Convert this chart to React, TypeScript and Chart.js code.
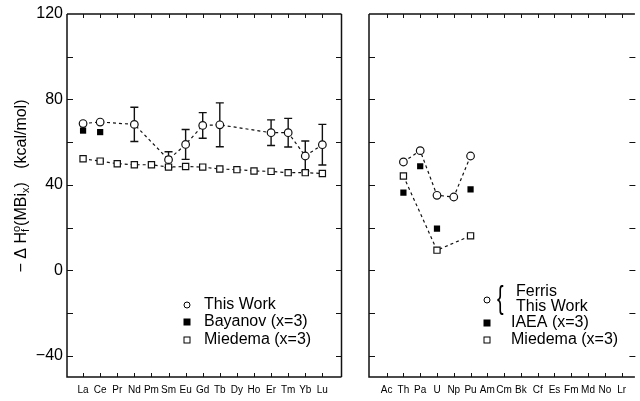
import React, { useEffect, useRef } from 'react';
import { Chart, registerables } from 'chart.js';

Chart.register(...registerables);

const FONT = "'Liberation Sans', Arial, Helvetica, sans-serif";

const lanthanides = ['La', 'Ce', 'Pr', 'Nd', 'Pm', 'Sm', 'Eu', 'Gd', 'Tb', 'Dy', 'Ho', 'Er', 'Tm', 'Yb', 'Lu'];
const actinides = ['Ac', 'Th', 'Pa', 'U', 'Np', 'Pu', 'Am', 'Cm', 'Bk', 'Cf', 'Es', 'Fm', 'Md', 'No', 'Lr'];
const yTickValues = [-40, 0, 40, 80, 120];
const yMinorTicks = [-40, -20, 0, 20, 40, 60, 80, 100];

// Left panel: lanthanide bismuthides
const thisWorkLn = [68.7, 69.4, null, 68.3, null, 51.8, 58.9, 67.8, 68.1, null, null, 64.4, 64.4, 53.5, 58.8];
const thisWorkLnErr = [0, 0, null, 8, null, 3.7, 7, 6, 10.3, null, null, 6, 6.7, 7, 9.5];
const bayanovLn = [65.4, 64.7, null, null, null, null, null, null, null, null, null, null, null, null, null];
const miedemaLn = [52.2, 51.1, 49.9, 49.4, 49.4, 48.3, 48.6, 48.3, 47.4, 47.1, 46.5, 46.3, 45.7, 45.7, 45.3];

// Right panel: actinide bismuthides
const thisWorkAn = [null, 50.7, 56, 35.1, 34.3, 53.5, null, null, null, null, null, null, null, null, null];
const iaeaAn = [null, 36.3, 48.7, 19.5, null, 37.9, null, null, null, null, null, null, null, null, null];
const miedemaAn = [null, 44.1, null, 9.4, null, 16.1, null, null, null, null, null, null, null, null, null];

const pts = (arr: (number | null)[]) =>
  arr.map((v, i) => (v == null ? null : { x: i, y: v })).filter((p) => p !== null) as { x: number; y: number }[];

const framePlugin = {
  id: 'frame',
  afterDraw(chart: any) {
    const { ctx, chartArea } = chart;
    const { left, right, top, bottom } = chartArea;
    const xs = chart.scales.x;
    const ys = chart.scales.y;
    const rightBorder = chart.options.plugins.frame.rightBorder;
    ctx.save();
    ctx.strokeStyle = '#111';
    ctx.lineWidth = 1.5;
    ctx.beginPath();
    ctx.moveTo(left, top);
    ctx.lineTo(right + 0.5, top);
    ctx.moveTo(left, top);
    ctx.lineTo(left, bottom);
    ctx.lineTo(right + 0.5, bottom);
    if (rightBorder) {
      ctx.moveTo(right + 0.5, top);
      ctx.lineTo(right + 0.5, bottom);
    }
    ctx.stroke();
    ctx.lineWidth = 1;
    ctx.beginPath();
    const n = chart.options.plugins.frame.count;
    for (let i = 0; i < n; i++) {
      const x = Math.round(xs.getPixelForValue(i)) + 0.5;
      ctx.moveTo(x, top);
      ctx.lineTo(x, top + 4);
      ctx.moveTo(x, bottom);
      ctx.lineTo(x, bottom - 4);
    }
    yMinorTicks.forEach((v) => {
      const y = Math.round(ys.getPixelForValue(v)) + 0.5;
      ctx.moveTo(left, y);
      ctx.lineTo(left + 6, y);
      ctx.moveTo(right + 1, y);
      ctx.lineTo(right - 5, y);
    });
    ctx.stroke();
    ctx.restore();
  },
};

const errorBarPlugin = {
  id: 'errbars',
  beforeDatasetsDraw(chart: any) {
    const errs = chart.options.plugins.errbars.errors as (number | null)[] | undefined;
    const vals = chart.options.plugins.errbars.values as (number | null)[] | undefined;
    if (!errs || !vals) return;
    const { ctx } = chart;
    const xs = chart.scales.x;
    const ys = chart.scales.y;
    ctx.save();
    ctx.strokeStyle = '#111';
    ctx.lineWidth = 1.4;
    ctx.beginPath();
    errs.forEach((e, i) => {
      const v = vals[i];
      if (e == null || v == null || e === 0) return;
      const x = xs.getPixelForValue(i);
      const y1 = ys.getPixelForValue(v + e);
      const y2 = ys.getPixelForValue(v - e);
      ctx.moveTo(x, y1);
      ctx.lineTo(x, y2);
      ctx.moveTo(x - 4, y1);
      ctx.lineTo(x + 4, y1);
      ctx.moveTo(x - 4, y2);
      ctx.lineTo(x + 4, y2);
    });
    ctx.stroke();
    ctx.restore();
  },
};

function drawSymbol(ctx: CanvasRenderingContext2D, kind: string, x: number, y: number) {
  ctx.save();
  ctx.lineWidth = 1;
  ctx.strokeStyle = '#000';
  if (kind === 'circle') {
    ctx.beginPath();
    ctx.arc(x, y, 3, 0, Math.PI * 2);
    ctx.fillStyle = '#fff';
    ctx.fill();
    ctx.stroke();
  } else if (kind === 'filled') {
    ctx.fillStyle = '#000';
    ctx.fillRect(x - 3.5, y - 3.5, 7, 7);
  } else {
    ctx.fillStyle = '#fff';
    ctx.fillRect(x - 3, y - 3, 6, 6);
    ctx.strokeRect(x - 3, y - 3, 6, 6);
  }
  ctx.restore();
}

const legendPlugin = {
  id: 'customLegend',
  afterDraw(chart: any) {
    const items = chart.options.plugins.customLegend.items as any[];
    const { ctx } = chart;
    ctx.save();
    ctx.fillStyle = '#000';
    ctx.textBaseline = 'middle';
    ctx.textAlign = 'left';
    items.forEach((it) => {
      if (it.symbol) drawSymbol(ctx, it.symbol, it.sx, it.sy);
      if (it.text) {
        ctx.save();
        ctx.font = `${it.size || 16}px ${FONT}`;
        if (it.scaleY) {
          ctx.translate(it.tx, it.ty);
          ctx.scale(it.scaleX || 1, it.scaleY);
          ctx.fillText(it.text, 0, 0);
        } else {
          ctx.fillText(it.text, it.tx, it.ty);
        }
        ctx.restore();
      }
    });
    ctx.restore();
  },
};

const yTitlePlugin = {
  id: 'yTitle',
  afterDraw(chart: any) {
    const { ctx } = chart;
    const cx = 22;
    const cy = 186;
    const size = 16;
    const parts: { t: string; dy: number; s: number }[] = [
      { t: '\u2212 \u0394 H', dy: 0, s: size },
      { t: 'f', dy: 4, s: 11 },
      { t: 'o', dy: -5, s: 11 },
      { t: '(MBi', dy: 0, s: size },
      { t: 'x', dy: 4, s: 11 },
      { t: ')   (kcal/mol)', dy: 0, s: size },
    ];
    ctx.save();
    let total = 0;
    const widths = parts.map((p) => {
      ctx.font = `${p.s}px ${FONT}`;
      return ctx.measureText(p.t).width;
    });
    parts.forEach((_, i) => {
      if (i === 1) return;
      total += i === 2 ? Math.max(widths[1], widths[2]) : widths[i];
    });
    ctx.translate(cx, cy);
    ctx.rotate(-Math.PI / 2);
    ctx.fillStyle = '#000';
    ctx.textBaseline = 'middle';
    let x = -total / 2;
    parts.forEach((p, i) => {
      ctx.font = `${p.s}px ${FONT}`;
      ctx.fillText(p.t, x, p.dy);
      if (i === 1) return;
      if (i === 2) x += Math.max(widths[1], widths[2]);
      else x += widths[i];
    });
    ctx.restore();
  },
};

function makeConfig(opts: {
  cats: string[];
  min: number;
  max: number;
  padLeft: number;
  padRight: number;
  yWidth: number;
  showYLabels: boolean;
  rightBorder: boolean;
  datasets: any[];
  legend: any[];
  errors?: (number | null)[];
  errValues?: (number | null)[];
  extraPlugins: any[];
}) {
  const { cats } = opts;
  return {
    type: 'scatter' as const,
    data: { datasets: opts.datasets },
    options: {
      animation: false as const,
      responsive: false,
      maintainAspectRatio: false,
      events: [],
      layout: { padding: { left: opts.padLeft, right: opts.padRight, top: 14, bottom: 0 } },
      plugins: {
        legend: { display: false },
        tooltip: { enabled: false },
        frame: { count: cats.length, rightBorder: opts.rightBorder },
        errbars: { errors: opts.errors, values: opts.errValues },
        customLegend: { items: opts.legend },
      },
      scales: {
        x: {
          type: 'linear' as const,
          min: opts.min,
          max: opts.max,
          afterBuildTicks: (ax: any) => {
            ax.ticks = cats.map((_, i) => ({ value: i }));
          },
          afterFit: (ax: any) => {
            ax.height = 24;
          },
          grid: { display: false, drawTicks: false },
          border: { display: false },
          ticks: {
            autoSkip: false,
            maxRotation: 0,
            minRotation: 0,
            padding: 7,
            color: '#000',
            font: { family: FONT, size: 10 },
            callback: (v: any) => cats[Math.round(Number(v))] ?? '',
          },
        },
        y: {
          type: 'linear' as const,
          min: -50,
          max: 120,
          afterBuildTicks: (ax: any) => {
            ax.ticks = yTickValues.map((v) => ({ value: v }));
          },
          afterFit: (ax: any) => {
            ax.width = opts.yWidth;
          },
          grid: { display: false, drawTicks: false },
          border: { display: false },
          ticks: {
            display: opts.showYLabels,
            padding: 4,
            color: '#000',
            font: { family: FONT, size: 16 },
            callback: (v: any) => (Number(v) < 0 ? '\u2212' + Math.abs(Number(v)) : String(v)),
          },
        },
      },
    },
    plugins: [framePlugin, errorBarPlugin, legendPlugin, ...opts.extraPlugins],
  };
}

const dashedLine = {
  showLine: true,
  borderColor: '#111',
  borderWidth: 1.2,
  borderDash: [3, 3],
};

function ChartCanvas({ config }: { config: any }) {
  const ref = useRef<HTMLCanvasElement | null>(null);
  useEffect(() => {
    if (!ref.current) return;
    const chart = new Chart(ref.current, config);
    return () => chart.destroy();
  }, [config]);
  return (
    <canvas
      ref={ref}
      width={640}
      height={401}
      style={{ position: 'absolute', left: 0, top: 0, width: 640, height: 401 }}
    />
  );
}

const leftConfig = makeConfig({
  cats: lanthanides,
  min: -0.94,
  max: 15.09,
  padLeft: 0,
  padRight: 299,
  yWidth: 67,
  showYLabels: true,
  rightBorder: true,
  errors: thisWorkLnErr,
  errValues: thisWorkLn,
  datasets: [
    {
      label: 'This Work',
      data: pts(thisWorkLn),
      ...dashedLine,
      pointStyle: 'circle',
      pointRadius: 3.8,
      pointBackgroundColor: '#fff',
      pointBorderColor: '#111',
      pointBorderWidth: 1.2,
    },
    {
      label: 'Bayanov (x=3)',
      data: pts(bayanovLn),
      showLine: false,
      pointStyle: 'rect',
      pointRadius: 4.4,
      pointBackgroundColor: '#000',
      pointBorderColor: '#000',
      pointBorderWidth: 0,
    },
    {
      label: 'Miedema (x=3)',
      data: pts(miedemaLn),
      ...dashedLine,
      pointStyle: 'rect',
      pointRadius: 4.4,
      pointBackgroundColor: '#fff',
      pointBorderColor: '#111',
      pointBorderWidth: 1.2,
    },
  ],
  legend: [
    { symbol: 'circle', sx: 187, sy: 305, text: 'This Work', tx: 204, ty: 305 },
    { symbol: 'filled', sx: 187, sy: 322, text: 'Bayanov (x=3)', tx: 204, ty: 322 },
    { symbol: 'open', sx: 187, sy: 340, text: 'Miedema (x=3)', tx: 204, ty: 340 },
  ],
  extraPlugins: [yTitlePlugin],
});

const rightConfig = makeConfig({
  cats: actinides,
  min: -1.05,
  max: 14.76,
  padLeft: 369,
  padRight: 0,
  yWidth: 0,
  showYLabels: false,
  rightBorder: false,
  datasets: [
    {
      label: 'Ferris / This Work',
      data: pts(thisWorkAn),
      ...dashedLine,
      pointStyle: 'circle',
      pointRadius: 3.8,
      pointBackgroundColor: '#fff',
      pointBorderColor: '#111',
      pointBorderWidth: 1.2,
    },
    {
      label: 'IAEA (x=3)',
      data: pts(iaeaAn),
      showLine: false,
      pointStyle: 'rect',
      pointRadius: 4.4,
      pointBackgroundColor: '#000',
      pointBorderColor: '#000',
      pointBorderWidth: 0,
    },
    {
      label: 'Miedema (x=3)',
      data: pts(miedemaAn),
      ...dashedLine,
      pointStyle: 'rect',
      pointRadius: 4.4,
      pointBackgroundColor: '#fff',
      pointBorderColor: '#111',
      pointBorderWidth: 1.2,
    },
  ],
  legend: [
    { symbol: 'circle', sx: 487, sy: 300 },
    { text: '{', tx: 497, ty: 299, size: 22, scaleX: 0.9, scaleY: 1.45 },
    { text: 'Ferris', tx: 516, ty: 292 },
    { text: 'This Work', tx: 516, ty: 307 },
    { symbol: 'filled', sx: 487, sy: 323, text: 'IAEA (x=3)', tx: 511, ty: 323 },
    { symbol: 'open', sx: 487, sy: 340, text: 'Miedema (x=3)', tx: 511, ty: 340 },
  ],
  extraPlugins: [],
});

export default function App() {
  return (
    <div
      style={{
        position: 'fixed',
        left: 0,
        top: 0,
        width: 640,
        height: 401,
        background: '#fff',
        overflow: 'hidden',
      }}
    >
      <ChartCanvas config={leftConfig} />
      <ChartCanvas config={rightConfig} />
    </div>
  );
}
